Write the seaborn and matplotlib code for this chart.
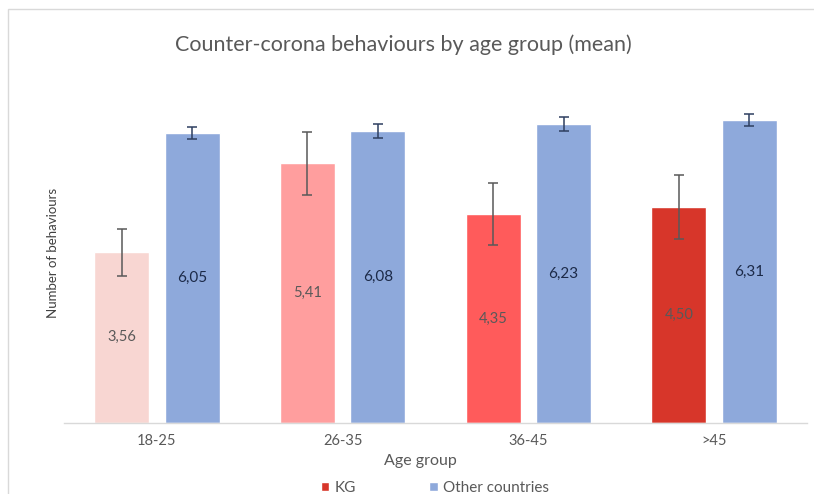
import matplotlib
matplotlib.use("Agg")
import matplotlib.pyplot as plt
import seaborn as sns
import pandas as pd
from matplotlib.patches import Rectangle, Patch

# data
AGE_GROUPS = ["18-25", "26-35", "36-45", ">45"]
GROUPS = ["KG", "Other countries"]
KG_MEAN = [3.56, 5.41, 4.35, 4.50]
KG_ERR = [0.49, 0.66, 0.65, 0.67]
OTHER_MEAN = [6.05, 6.08, 6.23, 6.31]
OTHER_ERR = [0.125, 0.15, 0.15, 0.125]

KG_COLORS = ["#F8D6D2", "#FF9E9E", "#FF5B5B", "#D7362A"]
OTHER_COLOR = "#8EA9DB"
TEXT_GREY = "#595959"

df = pd.DataFrame({
    "age": AGE_GROUPS * 2,
    "group": [GROUPS[0]] * 4 + [GROUPS[1]] * 4,
    "mean": KG_MEAN + OTHER_MEAN,
    "err": KG_ERR + OTHER_ERR,
})

sns.set_theme(style="white")
plt.rcParams['font.family'] = ['Lato', 'DejaVu Sans']

fig = plt.figure(figsize=(8.14, 4.94), dpi=100)
ax = fig.add_axes([64 / 814, 71.3 / 494, 743 / 814, 335.5 / 494])

sns.barplot(data=df, x="age", y="mean", hue="group", order=AGE_GROUPS, hue_order=GROUPS,
            palette=[KG_COLORS[3], OTHER_COLOR], width=0.76, gap=0.22, errorbar=None,
            saturation=1, legend=False, ax=ax)

# KG bars get a different shade per age group
kg_bars, other_bars = ax.containers[0], ax.containers[1]
for bar, c in zip(kg_bars, KG_COLORS):
    bar.set_facecolor(c)

# error bars, placed on the bars seaborn drew
for bars, errs, ecol in [(kg_bars, KG_ERR, TEXT_GREY), (other_bars, OTHER_ERR, "#2E3F60")]:
    xs = [b.get_x() + b.get_width() / 2 for b in bars]
    ys = [b.get_height() for b in bars]
    ax.errorbar(xs, ys, yerr=errs, fmt="none", ecolor=ecol, elinewidth=1.1,
                capsize=3.5, capthick=1.1, zorder=3)

def fmt(v):
    return f"{v:.2f}".replace(".", ",")

ax.bar_label(kg_bars, labels=[fmt(v) for v in KG_MEAN], label_type="center",
             color=TEXT_GREY, fontsize=10.5)
ax.bar_label(other_bars, labels=[fmt(v) for v in OTHER_MEAN], label_type="center",
             color="#1C2A48", fontsize=11)

ax.set_ylim(0, 7)
ax.set_xlim(-0.5, 3.5)
ax.set_yticks([])
ax.set_xlabel("")
ax.set_ylabel("")
for s in ["left", "right", "top"]:
    ax.spines[s].set_visible(False)
ax.spines["bottom"].set_color("#D9D9D9")
ax.spines["bottom"].set_linewidth(1)
ax.set_xticks(range(len(AGE_GROUPS)))
ax.set_xticklabels(AGE_GROUPS, color=TEXT_GREY, fontsize=10.5)
ax.tick_params(axis="x", which="major", length=0, pad=8)
ax.set_xticks([i - 0.5 for i in range(len(AGE_GROUPS) + 1)], minor=True)
ax.tick_params(axis="x", which="minor", length=4, color="#D9D9D9", width=1, direction="out")

fig.text(403 / 814, 1 - 45 / 494, "Counter-corona behaviours by age group (mean)",
         ha="center", va="center", fontsize=15.5, color=TEXT_GREY)
fig.text(53 / 814, 1 - 253 / 494, "Number of behaviours", rotation=90,
         ha="center", va="center", fontsize=9.5, color="#404040")
fig.text(420 / 814, 1 - 461 / 494, "Age group", ha="center", va="center",
         fontsize=11.5, color=TEXT_GREY)

handles = [Patch(facecolor=KG_COLORS[3], label=GROUPS[0]),
           Patch(facecolor=OTHER_COLOR, label=GROUPS[1])]
leg = fig.legend(handles=handles, loc="center", bbox_to_anchor=(435 / 814, 1 - 488 / 494),
                 ncol=2, frameon=False, fontsize=11, handlelength=0.55, handleheight=0.55,
                 handletextpad=0.35, columnspacing=4.8)
for t in leg.get_texts():
    t.set_color(TEXT_GREY)

# chart border
fig.add_artist(Rectangle((8 / 814, -0.1), 1.0, (494 - 9) / 494 + 0.1, fill=False,
                         edgecolor="#D9D9D9", linewidth=1, transform=fig.transFigure))

fig.savefig("out.png", dpi=100)
